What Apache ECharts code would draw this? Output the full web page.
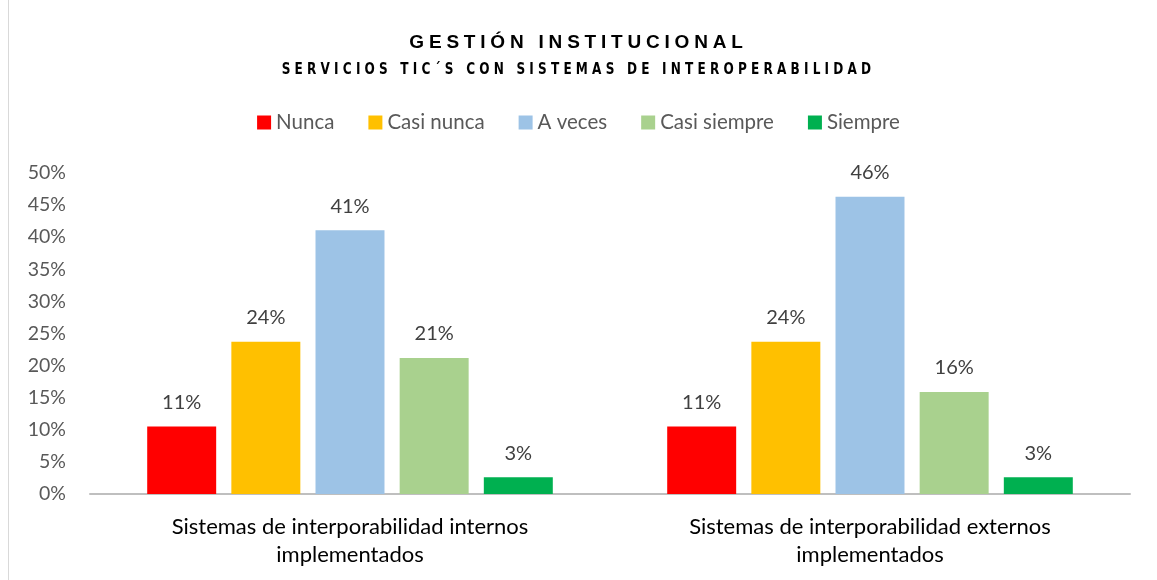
<!DOCTYPE html>
<html>
<head>
<meta charset="utf-8">
<script src="https://cdn.jsdelivr.net/npm/echarts@6/dist/echarts.min.js"></script>
<style>
  body { margin: 0; background: #fff; }
  #wrap { position: relative; width: 1157px; height: 580px; }
  #main { width: 1157px; height: 580px; }
  .t1, .t2 { position: absolute; left: 0; width: 1157px; text-align: center; color: #000; pointer-events: none; }
  .t1 { top: 31px; font: bold 19px "Liberation Sans", Arial, sans-serif; letter-spacing: 4.8px; }
  .t2 { top: 59px; font: bold 16px "DejaVu Sans Condensed", "Liberation Sans Narrow", sans-serif; letter-spacing: 5px; transform: scaleX(0.84); }
</style>
</head>
<body>
<div id="wrap">
  <div id="main"></div>
  <div class="t1">GESTIÓN INSTITUCIONAL</div>
  <div class="t2">SERVICIOS TIC´S CON SISTEMAS DE INTEROPERABILIDAD</div>
</div>
<script>
// datos
var categorias = ["Sistemas de interporabilidad internos\nimplementados", "Sistemas de interporabilidad externos\nimplementados"];
var nombres = ["Nunca", "Casi nunca", "A veces", "Casi siempre", "Siempre"];
var colores = ["#ff0000", "#ffc000", "#9dc3e6", "#a9d18e", "#00b050"];
var nunca = [10.5, 10.5];
var casiNunca = [23.7, 23.7];
var aVeces = [41.1, 46.3];
var casiSiempre = [21.2, 15.9];
var siempre = [2.6, 2.6];
var valores = [nunca, casiNunca, aVeces, casiSiempre, siempre];

var fuente = "Lato, 'Open Sans', sans-serif";
var myChart = echarts.init(document.getElementById("main"));

var series = [];
for (var i = 0; i < nombres.length; i++) {
  series.push({
    name: nombres[i],
    type: "bar",
    data: valores[i],
    color: colores[i],
    barGap: "22%",
    barCategoryGap: "22%",
    label: {
      show: true,
      position: "top",
      distance: 14,
      color: "#404040",
      fontSize: 20,
      fontFamily: fuente,
      formatter: function (p) { return Math.round(p.value) + "%"; }
    }
  });
}

var option = {
  animation: false,
  graphic: [{
    type: "line",
    shape: { x1: 8.5, y1: 0, x2: 8.5, y2: 580 },
    style: { stroke: "#d9d9d9", lineWidth: 1 }
  }],
  legend: {
    top: 107,
    left: "center",
    itemWidth: 14,
    itemHeight: 14,
    itemGap: 34,
    icon: "rect",
    textStyle: { color: "#595959", fontSize: 20.5, fontFamily: fuente },
    data: nombres
  },
  grid: { left: 90, right: 27, top: 173, bottom: 86, containLabel: false },
  xAxis: {
    type: "category",
    data: categorias,
    axisTick: { show: false },
    axisLine: { lineStyle: { color: "#bfbfbf", width: 2 } },
    axisLabel: { color: "#000", fontSize: 22, fontFamily: fuente, lineHeight: 28, margin: 19 }
  },
  yAxis: {
    type: "value",
    min: 0,
    max: 50,
    interval: 5,
    splitLine: { show: false },
    axisLine: { show: false },
    axisTick: { show: false },
    axisLabel: { color: "#595959", fontSize: 19.5, fontFamily: fuente, margin: 24, formatter: "{value}%" }
  },
  series: series
};
option && myChart.setOption(option);
</script>
</body>
</html>
